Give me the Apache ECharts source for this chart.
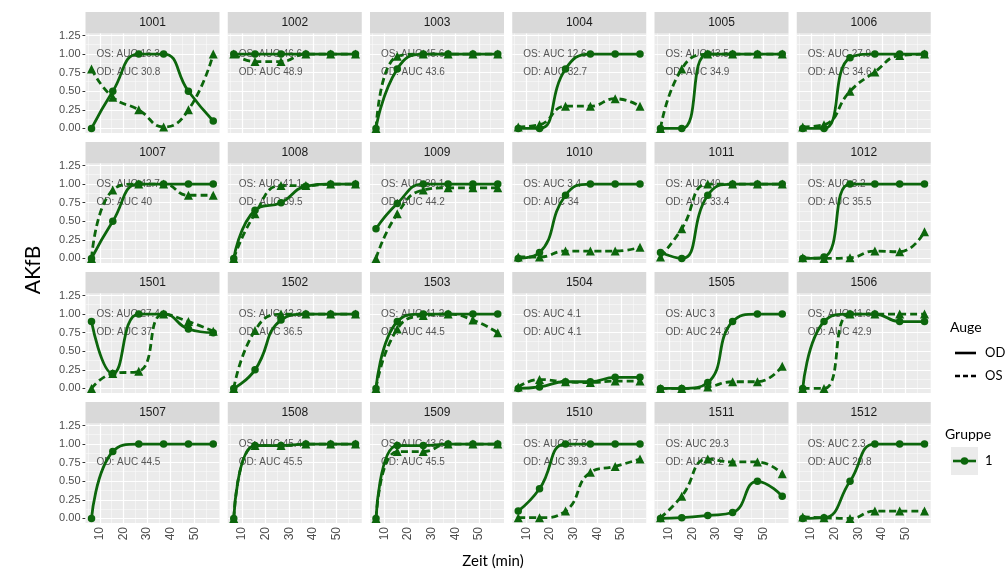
<!DOCTYPE html>
<html>
<head>
<meta charset="utf-8">
<script src="https://cdn.jsdelivr.net/npm/echarts@6/dist/echarts.min.js"></script>
<style>
  html, body { margin: 0; padding: 0; background: #ffffff; }
  #chart { width: 1008px; height: 569px; }
</style>
</head>
<body>
<div id="chart"></div>
<script>
// ---- data -------------------------------------------------------------
const panelIds = ['1001', '1002', '1003', '1004', '1005', '1006',
                  '1007', '1008', '1009', '1010', '1011', '1012',
                  '1501', '1502', '1503', '1504', '1505', '1506',
                  '1507', '1508', '1509', '1510', '1511', '1512'];
const times = [6.5, 15.5, 26.5, 37, 47.5, 58];           // Zeit (min)
const xTicks = [10, 20, 30, 40, 50];
const xMinorTicks = [5, 15, 25, 35, 45, 55];
const yTicks = [0, 0.25, 0.5, 0.75, 1, 1.25];
const yMinorTicks = [0.125, 0.375, 0.625, 0.875, 1.125];

// AKfB per eye: OD (solid, circles) and OS (dashed, triangles)
const od1001 = [0, 0.5, 1.0, 1.0, 0.5, 0.1];
const os1001 = [0.8, 0.42, 0.25, 0.02, 0.25, 1.0];
const od1002 = [1, 1, 1, 1, 1, 1];
const os1002 = [1, 0.9, 0.9, 1, 1, 1];
const od1003 = [0, 0.8, 1, 1, 1, 1];
const os1003 = [0, 0.97, 1, 1, 1, 1];
const od1004 = [0, 0, 0.8, 1, 1, 1];
const os1004 = [0.02, 0.05, 0.3, 0.3, 0.4, 0.3];
const od1005 = [0, 0, 1, 1, 1, 1];
const os1005 = [0, 0.8, 1, 1, 1, 1];
const od1006 = [0, 0, 0.95, 1, 1, 1];
const os1006 = [0.02, 0.05, 0.5, 0.76, 0.98, 1];
const od1007 = [0, 0.5, 1, 1, 1, 1];
const os1007 = [0, 0.92, 1, 1, 0.85, 0.85];
const od1008 = [0, 0.65, 0.75, 0.97, 1, 1];
const os1008 = [0, 0.6, 0.98, 0.98, 1, 1];
const od1009 = [0.4, 0.74, 1, 1, 1, 1];
const os1009 = [0, 0.6, 0.92, 0.95, 0.95, 0.95];
const od1010 = [0, 0.08, 0.85, 1, 1, 1];
const os1010 = [0.02, 0.02, 0.1, 0.1, 0.1, 0.15];
const od1011 = [0.08, 0, 0.85, 1, 1, 1];
const os1011 = [0.02, 0.4, 1, 1, 1, 1];
const od1012 = [0, 0.02, 1, 1, 1, 1];
const os1012 = [0.01, 0, 0.01, 0.1, 0.09, 0.36];
const od1501 = [0.9, 0.2, 1, 1, 0.8, 0.75];
const os1501 = [0, 0.2, 0.23, 1, 0.9, 0.77];
const od1502 = [0, 0.25, 0.92, 1, 1, 1];
const os1502 = [0, 0.78, 1, 1, 1, 1];
const od1503 = [0, 0.9, 1, 1, 1, 1];
const os1503 = [0, 0.8, 0.98, 1, 0.92, 0.75];
const od1504 = [0, 0.02, 0.09, 0.09, 0.15, 0.15];
const os1504 = [0.02, 0.12, 0.09, 0.08, 0.1, 0.1];
const od1505 = [0, 0, 0.08, 0.9, 1, 1];
const os1505 = [0, 0, 0.02, 0.09, 0.09, 0.3];
const od1506 = [0, 0.9, 1, 1, 0.9, 0.9];
const os1506 = [0, 0, 1, 1, 1, 1];
const od1507 = [0, 0.9, 1, 1, 1, 1];
const os1507 = null;
const od1508 = [0, 0.98, 0.98, 1, 1, 1];
const os1508 = [0, 0.98, 0.98, 1, 1, 1];
const od1509 = [0, 0.98, 0.98, 1, 1, 1];
const os1509 = [0, 0.9, 0.9, 1, 1, 1];
const od1510 = [0.1, 0.4, 1, 1, 1, 1];
const os1510 = [0.01, 0.01, 0.1, 0.62, 0.7, 0.8];
const od1511 = [0, 0.01, 0.04, 0.08, 0.5, 0.3];
const os1511 = [0.01, 0.3, 0.8, 0.76, 0.76, 0.6];
const od1512 = [0, 0.01, 0.5, 1, 1, 1];
const os1512 = [0.02, 0.01, 0, 0.1, 0.1, 0.1];

// AUC labels per panel (same order as panelIds)
const aucOS = ['16.3', '46.6', '45.6', '12.6', '43.5', '27.9',
               '42.7', '41.1', '39.1', '3.4', '40', '3.2',
               '27.4', '42.3', '41.2', '4.1', '3', '41.6',
               null, '45.4', '43.6', '17.8', '29.3', '2.3'];
const aucOD = ['30.8', '48.9', '43.6', '32.7', '34.9', '34.6',
               '40', '39.5', '44.2', '34', '33.4', '35.5',
               '37', '36.5', '44.5', '4.1', '24.8', '42.9',
               '44.5', '45.5', '45.5', '39.3', '8.2', '29.8'];

const odByPanel = [od1001, od1002, od1003, od1004, od1005, od1006,
                   od1007, od1008, od1009, od1010, od1011, od1012,
                   od1501, od1502, od1503, od1504, od1505, od1506,
                   od1507, od1508, od1509, od1510, od1511, od1512];
const osByPanel = [os1001, os1002, os1003, os1004, os1005, os1006,
                   os1007, os1008, os1009, os1010, os1011, os1012,
                   os1501, os1502, os1503, os1504, os1505, os1506,
                   os1507, os1508, os1509, os1510, os1511, os1512];

// ---- layout & style --------------------------------------------------
const COLS = 6;
const LEFT0 = 85.5, PITCH_X = 142.25, PANEL_W = 134;
const STRIP_TOP0 = 12, PITCH_Y = 130, STRIP_H = 21.5, PLOT_H = 99.5;
const X_MIN = 3.96, X_MAX = 60.65, Y_MIN = -0.061, Y_MAX = 1.277;
const LABEL_X = 8.4, OS_LABEL_Y = 1.0, OD_LABEL_Y = 0.75;
const GREEN = '#0c660c';
const LINE_W = 2.8;
const SANS = 'Liberation Sans, Arial, sans-serif';
const TITLE_FONT = 'Lato, Open Sans, sans-serif';

const grids = [], xAxes = [], yAxes = [], series = [], graphics = [];

panelIds.forEach((id, i) => {
  const c = i % COLS, r = Math.floor(i / COLS);
  const left = LEFT0 + c * PITCH_X;
  const stripTop = STRIP_TOP0 + r * PITCH_Y;
  const isBottom = r === 3, isLeft = c === 0;

  grids.push({
    left: left, top: stripTop + STRIP_H, width: PANEL_W, height: PLOT_H,
    show: true, backgroundColor: '#EBEBEB', borderWidth: 0
  });
  xAxes.push({
    gridIndex: i, type: 'value', min: X_MIN, max: X_MAX,
    axisLine: { show: false }, splitLine: { show: false },
    axisTick: { show: isBottom, customValues: xTicks, length: 3,
                lineStyle: { color: '#333333', width: 1 } },
    axisLabel: { show: isBottom, customValues: xTicks, rotate: 90, margin: 4,
                 color: '#4D4D4D', fontSize: 12, fontFamily: SANS }
  });
  yAxes.push({
    gridIndex: i, type: 'value', min: Y_MIN, max: Y_MAX,
    axisLine: { show: false }, splitLine: { show: false },
    axisTick: { show: isLeft, customValues: yTicks, length: 3,
                lineStyle: { color: '#333333', width: 1 } },
    axisLabel: { show: isLeft, customValues: yTicks, margin: 5,
                 formatter: v => v.toFixed(2),
                 color: '#4D4D4D', fontSize: 11, fontFamily: SANS }
  });

  // panel grid lines (kept underneath the annotations)
  const gl = [];
  xMinorTicks.forEach(v => gl.push({ xAxis: v, lineStyle: { color: '#FAFAFA', width: 0.6, type: 'solid' } }));
  yMinorTicks.forEach(v => gl.push({ yAxis: v, lineStyle: { color: '#FAFAFA', width: 0.6, type: 'solid' } }));
  xTicks.forEach(v => gl.push({ xAxis: v, lineStyle: { color: '#FFFFFF', width: 1.2, type: 'solid' } }));
  yTicks.forEach(v => gl.push({ yAxis: v, lineStyle: { color: '#FFFFFF', width: 1.2, type: 'solid' } }));
  series.push({
    type: 'line', xAxisIndex: i, yAxisIndex: i, data: [], silent: true, z: 1,
    markLine: { z: 1, silent: true, symbol: ['none', 'none'], label: { show: false },
                emphasis: { disabled: true }, animation: false, data: gl }
  });

  // AUC annotations (below the curves)
  const notes = [];
  if (aucOS[i] !== null) notes.push([LABEL_X, OS_LABEL_Y, 'OS: AUC ' + aucOS[i]]);
  notes.push([LABEL_X, OD_LABEL_Y, 'OD: AUC ' + aucOD[i]]);
  series.push({
    type: 'scatter', xAxisIndex: i, yAxisIndex: i, z: 6, silent: true,
    symbolSize: 1, itemStyle: { color: 'rgba(0,0,0,0)' },
    data: notes,
    label: { show: true, position: 'right', distance: 0,
             formatter: p => p.data[2], color: '#2e2e2e', fontSize: 10, fontFamily: SANS }
  });

  // OD: solid with circles
  series.push({
    type: 'line', name: 'OD', xAxisIndex: i, yAxisIndex: i, zlevel: 1, z: 3, silent: true,
    data: times.map((t, k) => [t, odByPanel[i][k]]),
    smooth: 0.5, symbol: 'circle', symbolSize: 7.5, showAllSymbol: true,
    lineStyle: { color: GREEN, width: LINE_W }, itemStyle: { color: GREEN }
  });
  // OS: dashed with triangles
  if (osByPanel[i]) {
    series.push({
      type: 'line', name: 'OS', xAxisIndex: i, yAxisIndex: i, zlevel: 1, z: 4, silent: true,
      data: times.map((t, k) => [t, osByPanel[i][k]]),
      smooth: 0.5, symbol: 'triangle', symbolSize: 9, showAllSymbol: true,
      lineStyle: { color: GREEN, width: LINE_W, type: [7, 4] }, itemStyle: { color: GREEN }
    });
  }

  // facet strip
  graphics.push({
    type: 'rect', shape: { x: left, y: stripTop, width: PANEL_W, height: STRIP_H },
    style: { fill: '#D9D9D9' }, silent: true
  });
  graphics.push({
    type: 'text', x: left + PANEL_W / 2, y: stripTop + STRIP_H / 2, silent: true,
    style: { text: id, fill: '#1A1A1A', font: '12px ' + SANS,
             textAlign: 'center', textVerticalAlign: 'middle' }
  });
});

// axis titles
graphics.push({
  type: 'text', x: 33, y: 270, rotation: Math.PI / 2, silent: true,
  style: { text: 'AKfB', fill: '#000000', font: '21px ' + TITLE_FONT,
           textAlign: 'center', textVerticalAlign: 'middle' }
});
graphics.push({
  type: 'text', x: 493, y: 561, silent: true,
  style: { text: 'Zeit (min)', fill: '#000000', font: '15px ' + TITLE_FONT,
           textAlign: 'center', textVerticalAlign: 'middle' }
});

// legends
function legendTitle(text, x, y) {
  graphics.push({ type: 'text', x: x, y: y, silent: true,
    style: { text: text, fill: '#000000', font: '14px ' + TITLE_FONT, textVerticalAlign: 'middle' } });
}
function legendLabel(text, x, y) {
  graphics.push({ type: 'text', x: x, y: y, silent: true,
    style: { text: text, fill: '#000000', font: '13px ' + TITLE_FONT, textVerticalAlign: 'middle' } });
}
legendTitle('Auge', 950, 327);
graphics.push({ type: 'line', shape: { x1: 955, y1: 353, x2: 976, y2: 353 }, silent: true,
  style: { stroke: '#000000', lineWidth: 2.6 } });
legendLabel('OD', 985, 353);
graphics.push({ type: 'line', shape: { x1: 955, y1: 376, x2: 976, y2: 376 }, silent: true,
  style: { stroke: '#000000', lineWidth: 2.6, lineDash: [5, 3] } });
legendLabel('OS', 985, 376);

legendTitle('Gruppe', 945, 434);
graphics.push({ type: 'rect', shape: { x: 951, y: 447, width: 27, height: 28 }, silent: true,
  style: { fill: '#EBEBEB' } });
graphics.push({ type: 'line', shape: { x1: 953, y1: 461, x2: 976, y2: 461 }, silent: true,
  style: { stroke: GREEN, lineWidth: 2.6 } });
graphics.push({ type: 'circle', shape: { cx: 964.5, cy: 461, r: 3.8 }, silent: true,
  style: { fill: GREEN } });
legendLabel('1', 985, 461);

const chart = echarts.init(document.getElementById('chart'), null, { renderer: 'canvas' });
chart.setOption({
  animation: false,
  backgroundColor: '#ffffff',
  grid: grids,
  xAxis: xAxes,
  yAxis: yAxes,
  series: series,
  graphic: graphics
});
</script>
</body>
</html>
